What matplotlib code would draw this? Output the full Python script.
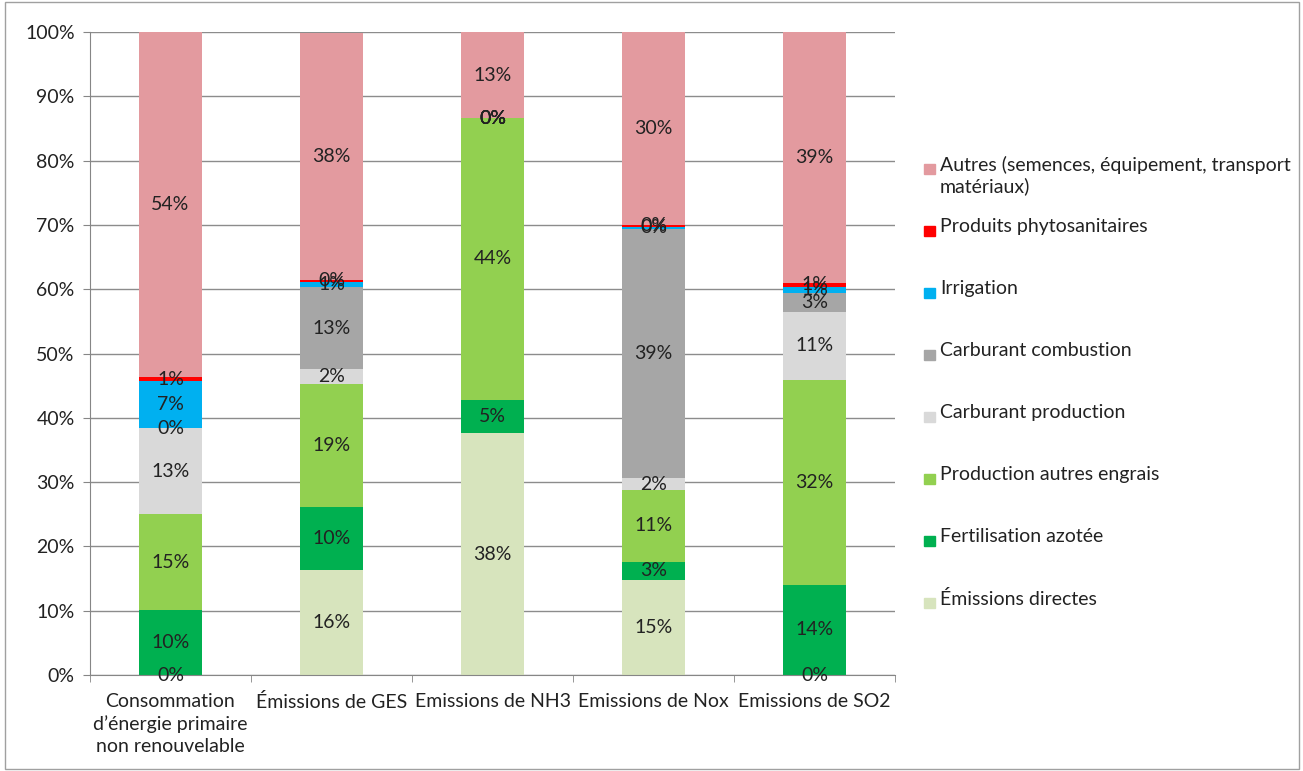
import numpy as np
import matplotlib.pyplot as plt
from matplotlib.patches import Rectangle

plt.rcParams['font.family'] = ['Lato', 'DejaVu Sans']

categories = ["Consommation\nd\u2019énergie primaire\nnon renouvelable", "Émissions de GES",
              "Emissions de NH3", "Emissions de Nox", "Emissions de SO2"]

# stacking order, bottom to top
series = ["Émissions directes", "Fertilisation azotée", "Production autres engrais",
          "Carburant production", "Carburant combustion", "Irrigation",
          "Produits phytosanitaires", "Autres (semences, équipement, transport\nmatériaux)"]
colors = ["#D7E4BD", "#00B050", "#92D050", "#D9D9D9", "#A6A6A6", "#00B0F0", "#FF0000", "#E39A9F"]

emissions_directes = [0.0, 16.3, 37.6, 14.8, 0.0]
fertilisation = [10.1, 9.8, 5.2, 2.8, 14.0]
autres_engrais = [14.9, 19.2, 43.8, 11.2, 31.9]
carb_production = [13.4, 2.3, 0.0, 1.8, 10.6]
carb_combustion = [0.0, 12.7, 0.0, 38.8, 2.9]
irrigation = [7.3, 0.8, 0.0, 0.3, 1.0]
phyto = [0.6, 0.4, 0.0, 0.3, 0.6]
autres = [53.7, 38.4, 13.4, 30.0, 39.0]

values = [emissions_directes, fertilisation, autres_engrais, carb_production,
          carb_combustion, irrigation, phyto, autres]

fs = 14

fig = plt.figure(figsize=(13.03, 7.71), dpi=100)
ax = fig.add_axes([0.069, 0.1245, 0.618, 0.834])

x = np.arange(len(categories))
bottom = np.zeros(len(categories))
for name, vals, col in zip(series, values, colors):
    vals = np.array(vals)
    ax.bar(x, vals, 0.39, bottom=bottom, color=col, zorder=2)
    for xi, b, v in zip(x, bottom, vals):
        ax.text(xi, b + v / 2, "{:.0f}%".format(v), ha='center', va='center',
                fontsize=fs, color='#222222', zorder=3)
    bottom += vals

ax.set_xlim(-0.5, len(categories) - 0.5)
ax.set_ylim(0, 100)
ax.set_yticks(np.arange(0, 101, 10))
ax.set_yticklabels(["{}%".format(v) for v in range(0, 101, 10)], fontsize=fs, color='#222222')
ax.yaxis.grid(True, color='#8C8C8C', linewidth=1, zorder=0)
ax.set_axisbelow(True)

ax.set_xticks(x)
ax.set_xticklabels(categories, fontsize=fs, linespacing=1.35, color='#222222')
ax.tick_params(axis='x', length=0, pad=13)
ax.set_xticks(np.arange(-0.5, len(categories)), minor=True)
ax.tick_params(axis='x', which='minor', length=5, color='#868686')
ax.tick_params(axis='y', length=5, color='#868686', pad=6)

for s in ['top', 'right']:
    ax.spines[s].set_visible(False)
for s in ['left', 'bottom']:
    ax.spines[s].set_color('#868686')

# legend, top entry first
leg_x = 0.7215
leg_y = 0.781
pitch = 0.0805
for i, (name, col) in enumerate(zip(series[::-1], colors[::-1])):
    y = leg_y - i * pitch
    fig.patches.append(Rectangle((leg_x - 0.012, y - 0.0065), 0.0077, 0.013,
                                 transform=fig.transFigure, color=col))
    fig.text(leg_x, y + 0.017, name, fontsize=fs, va='top', ha='left',
             linespacing=1.2, color='#222222')

fig.patches.append(Rectangle((0.004, 0.002), 0.993, 0.995, transform=fig.transFigure,
                             fill=False, edgecolor='#A0A0A0', linewidth=1))

fig.savefig("out.png", dpi=100)
